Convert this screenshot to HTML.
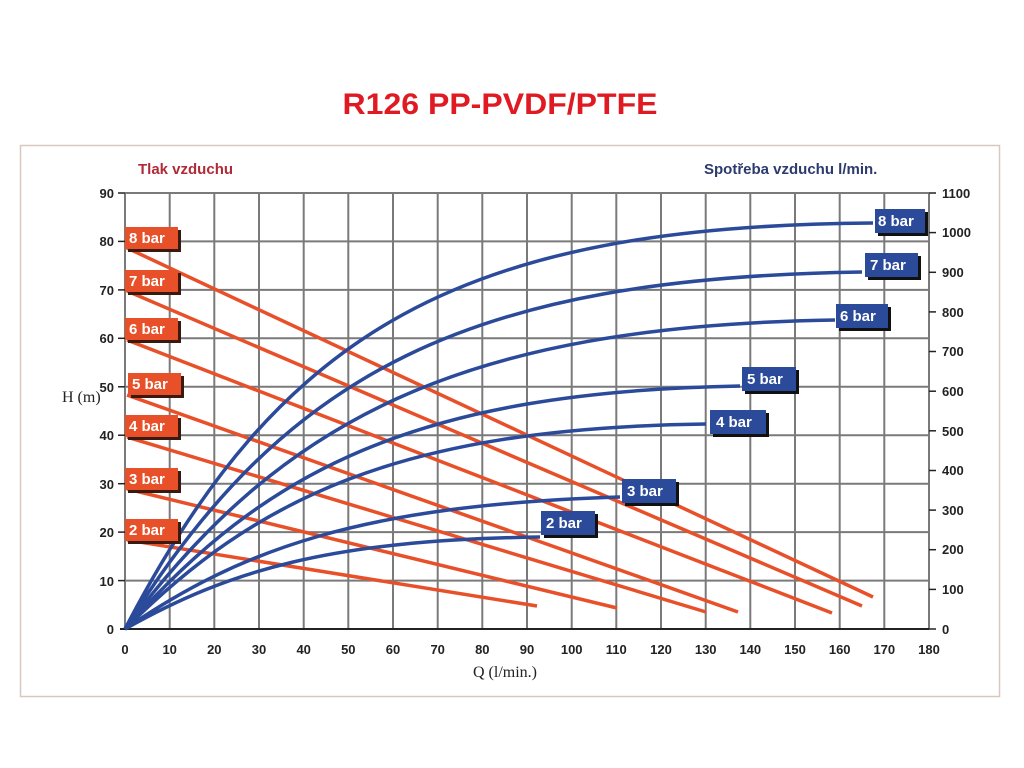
<!DOCTYPE html>
<html><head><meta charset="utf-8"><style>
body{margin:0;background:#fff;}
svg{display:block;font-family:"Liberation Sans",sans-serif;}
</style></head><body>
<svg width="1024" height="768" viewBox="0 0 1024 768" xmlns="http://www.w3.org/2000/svg">
<rect x="0" y="0" width="1024" height="768" fill="#fff"/>
<text x="500" y="114" text-anchor="middle" font-size="30" font-weight="bold" fill="#e01a22" textLength="315" lengthAdjust="spacingAndGlyphs">R126 PP-PVDF/PTFE</text>
<rect x="20.5" y="145.5" width="979" height="551" fill="none" stroke="#d8c8c0" stroke-width="1.5"/>
<text x="138" y="174" font-size="15" font-weight="bold" fill="#b02a38">Tlak vzduchu</text>
<text x="704" y="174" font-size="15" font-weight="bold" fill="#2c3a6e">Spotřeba vzduchu l/min.</text>
<g stroke="#7a7a7a" stroke-width="2">
<line x1="125" y1="193" x2="125" y2="629"/><line x1="169.7" y1="193" x2="169.7" y2="629"/><line x1="214.3" y1="193" x2="214.3" y2="629"/><line x1="259" y1="193" x2="259" y2="629"/><line x1="303.7" y1="193" x2="303.7" y2="629"/><line x1="348.3" y1="193" x2="348.3" y2="629"/><line x1="393" y1="193" x2="393" y2="629"/><line x1="437.7" y1="193" x2="437.7" y2="629"/><line x1="482.3" y1="193" x2="482.3" y2="629"/><line x1="527" y1="193" x2="527" y2="629"/><line x1="571.7" y1="193" x2="571.7" y2="629"/><line x1="616.3" y1="193" x2="616.3" y2="629"/><line x1="661" y1="193" x2="661" y2="629"/><line x1="705.7" y1="193" x2="705.7" y2="629"/><line x1="750.3" y1="193" x2="750.3" y2="629"/><line x1="795" y1="193" x2="795" y2="629"/><line x1="839.7" y1="193" x2="839.7" y2="629"/><line x1="884.3" y1="193" x2="884.3" y2="629"/><line x1="929" y1="193" x2="929" y2="629"/>
<line x1="125" y1="193" x2="929" y2="193"/><line x1="125" y1="241.4" x2="929" y2="241.4"/><line x1="125" y1="289.9" x2="929" y2="289.9"/><line x1="125" y1="338.3" x2="929" y2="338.3"/><line x1="125" y1="386.8" x2="929" y2="386.8"/><line x1="125" y1="435.2" x2="929" y2="435.2"/><line x1="125" y1="483.7" x2="929" y2="483.7"/><line x1="125" y1="532.1" x2="929" y2="532.1"/><line x1="125" y1="580.6" x2="929" y2="580.6"/>
</g>
<line x1="120" y1="629" x2="929" y2="629" stroke="#222" stroke-width="2"/>
<g stroke="#222" stroke-width="1.5">
<line x1="118" y1="193" x2="125" y2="193"/><line x1="118" y1="241.4" x2="125" y2="241.4"/><line x1="118" y1="289.9" x2="125" y2="289.9"/><line x1="118" y1="338.3" x2="125" y2="338.3"/><line x1="118" y1="386.8" x2="125" y2="386.8"/><line x1="118" y1="435.2" x2="125" y2="435.2"/><line x1="118" y1="483.7" x2="125" y2="483.7"/><line x1="118" y1="532.1" x2="125" y2="532.1"/><line x1="118" y1="580.6" x2="125" y2="580.6"/>
<line x1="929" y1="193" x2="936" y2="193"/><line x1="929" y1="232.6" x2="936" y2="232.6"/><line x1="929" y1="272.3" x2="936" y2="272.3"/><line x1="929" y1="311.9" x2="936" y2="311.9"/><line x1="929" y1="351.5" x2="936" y2="351.5"/><line x1="929" y1="391.2" x2="936" y2="391.2"/><line x1="929" y1="430.8" x2="936" y2="430.8"/><line x1="929" y1="470.5" x2="936" y2="470.5"/><line x1="929" y1="510.1" x2="936" y2="510.1"/><line x1="929" y1="549.7" x2="936" y2="549.7"/><line x1="929" y1="589.4" x2="936" y2="589.4"/><line x1="929" y1="629" x2="936" y2="629"/>
</g>
<g font-size="13" font-weight="bold" fill="#222" text-anchor="end">
<text x="114" y="198">90</text><text x="114" y="246">80</text><text x="114" y="295">70</text><text x="114" y="343">60</text><text x="114" y="392">50</text><text x="114" y="440">40</text><text x="114" y="489">30</text><text x="114" y="537">20</text><text x="114" y="586">10</text><text x="114" y="634">0</text>
</g>
<g font-size="13" font-weight="bold" fill="#222" text-anchor="start">
<text x="942" y="198">1100</text><text x="942" y="237">1000</text><text x="942" y="277">900</text><text x="942" y="317">800</text><text x="942" y="356">700</text><text x="942" y="396">600</text><text x="942" y="436">500</text><text x="942" y="475">400</text><text x="942" y="515">300</text><text x="942" y="554">200</text><text x="942" y="594">100</text><text x="942" y="634">0</text>
</g>
<g font-size="13" font-weight="bold" fill="#222" text-anchor="middle">
<text x="125" y="654">0</text><text x="169.7" y="654">10</text><text x="214.3" y="654">20</text><text x="259" y="654">30</text><text x="303.7" y="654">40</text><text x="348.3" y="654">50</text><text x="393" y="654">60</text><text x="437.7" y="654">70</text><text x="482.3" y="654">80</text><text x="527" y="654">90</text><text x="571.7" y="654">100</text><text x="616.3" y="654">110</text><text x="661" y="654">120</text><text x="705.7" y="654">130</text><text x="750.3" y="654">140</text><text x="795" y="654">150</text><text x="839.7" y="654">160</text><text x="884.3" y="654">170</text><text x="929" y="654">180</text>
</g>
<text x="505" y="677" font-size="16" text-anchor="middle" font-family="Liberation Serif,serif" fill="#222">Q (l/min.)</text>
<text x="62" y="402" font-size="16" font-family="Liberation Serif,serif" fill="#222">H (m)</text>
<g stroke="#e8502a" stroke-width="3.5" fill="none">
<line x1="127" y1="248" x2="873" y2="597"/>
<line x1="127" y1="291" x2="862" y2="606"/>
<line x1="127" y1="340" x2="832" y2="613"/>
<line x1="127" y1="395" x2="738" y2="612"/>
<line x1="127" y1="437" x2="706" y2="612"/>
<line x1="127" y1="489" x2="617" y2="608"/>
<line x1="127" y1="540" x2="537" y2="606"/>
</g>
<g stroke="#2b4a9a" stroke-width="3.5" fill="none">
<path d="M125,629 C280,330 460,226 873,223"/>
<path d="M125,629 C285,370 470,278 862,272"/>
<path d="M125,629 C280,420 460,326 835,320"/>
<path d="M125,629 C265,470 415,392 740,386"/>
<path d="M125,629 C255,500 395,428 706,424"/>
<path d="M125,629 C240,550 360,505 620,497"/>
<path d="M125,629 C230,570 330,540 540,537"/>
</g>
<g font-size="15" font-weight="bold" fill="#fff">
<g fill="#3a1a10"><rect x="128" y="230" width="53" height="22"/><rect x="128" y="273" width="53" height="22"/><rect x="128" y="321" width="53" height="22"/><rect x="131" y="376" width="53" height="22"/><rect x="128" y="418" width="53" height="22"/><rect x="128" y="471" width="53" height="22"/><rect x="128" y="522" width="53" height="22"/></g>
<g fill="#e8502a"><rect x="125" y="227" width="53" height="22"/><rect x="125" y="270" width="53" height="22"/><rect x="125" y="318" width="53" height="22"/><rect x="128" y="373" width="53" height="22"/><rect x="125" y="415" width="53" height="22"/><rect x="125" y="468" width="53" height="22"/><rect x="125" y="519" width="53" height="22"/></g>
<text x="129" y="243">8 bar</text><text x="129" y="286">7 bar</text><text x="129" y="334">6 bar</text><text x="132" y="389">5 bar</text><text x="129" y="431">4 bar</text><text x="129" y="484">3 bar</text><text x="129" y="535">2 bar</text>
<g fill="#111"><rect x="878" y="212" width="50" height="24"/><rect x="868" y="256" width="53" height="24"/><rect x="839" y="307" width="52" height="24"/><rect x="745" y="370" width="54" height="24"/><rect x="713" y="413" width="56" height="24"/><rect x="625" y="482" width="54" height="24"/><rect x="544" y="514" width="54" height="24"/></g>
<g fill="#2b4a9a"><rect x="875" y="209" width="50" height="24"/><rect x="865" y="253" width="53" height="24"/><rect x="836" y="304" width="52" height="24"/><rect x="742" y="367" width="54" height="24"/><rect x="710" y="410" width="56" height="24"/><rect x="622" y="479" width="54" height="24"/><rect x="541" y="511" width="54" height="24"/></g>
<text x="878" y="226">8 bar</text><text x="870" y="270">7 bar</text><text x="840" y="321">6 bar</text><text x="747" y="384">5 bar</text><text x="716" y="427">4 bar</text><text x="627" y="496">3 bar</text><text x="546" y="528">2 bar</text>
</g>
</svg>
</body></html>
